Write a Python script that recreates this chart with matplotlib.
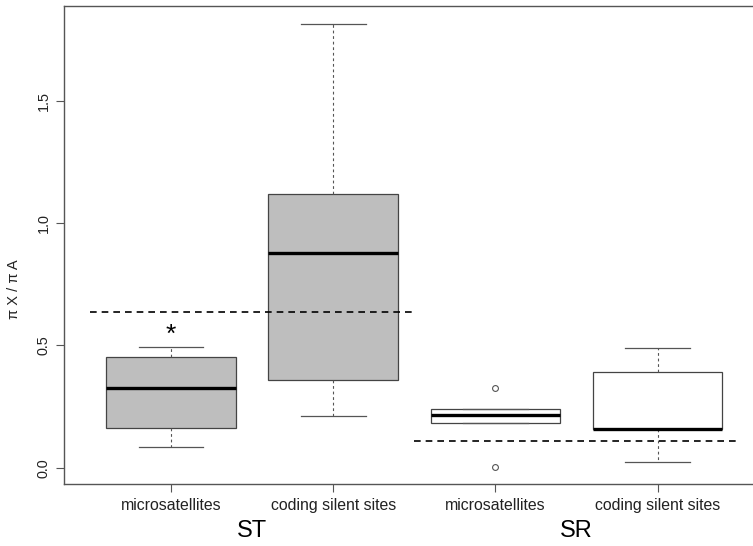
import matplotlib
matplotlib.use("Agg")
import matplotlib.pyplot as plt

plt.rcParams['font.family'] = ['Liberation Sans', 'DejaVu Sans']

# box statistics (pi X / pi A)
groups = ["ST", "SR"]
tick_labels = ["microsatellites", "coding silent sites", "microsatellites", "coding silent sites"]
whis_lo = [0.086, 0.211, 0.184, 0.022]
q1 = [0.163, 0.359, 0.184, 0.158]
medians = [0.324, 0.878, 0.214, 0.160]
q3 = [0.452, 1.118, 0.240, 0.391]
whis_hi = [0.495, 1.812, 0.240, 0.491]
outliers = [[], [], [0.328, 0.004], []]
fills = ["#bebebe", "#bebebe", "white", "white"]

# expected ratio per group (dashed reference lines)
expected = [0.635, 0.110]
star_y = 0.543

stats = []
for i in range(len(tick_labels)):
    stats.append({
        "whislo": whis_lo[i], "q1": q1[i], "med": medians[i],
        "q3": q3[i], "whishi": whis_hi[i], "fliers": outliers[i],
    })

fig = plt.figure(figsize=(7.53, 5.46), dpi=100)
ax = fig.add_axes([64 / 753, 62 / 546, 700.6 / 753, 478 / 546])

pos = [1, 2, 3, 4]
bp = ax.bxp(stats, positions=pos, widths=0.8, patch_artist=True,
            showfliers=True,
            boxprops=dict(edgecolor="#444444", linewidth=0.9),
            medianprops=dict(color="black", linewidth=2.4, solid_capstyle="butt"),
            whiskerprops=dict(color="#555555", linewidth=0.8, linestyle=(0, (2.5, 2.5))),
            capprops=dict(color="#555555", linewidth=0.9),
            capwidths=0.4,
            flierprops=dict(marker="o", markerfacecolor="none",
                            markeredgecolor="#555555", markersize=4.2,
                            markeredgewidth=0.8))
for patch, c in zip(bp["boxes"], fills):
    patch.set_facecolor(c)

# dashed expectation lines for each group
for g, val in enumerate(expected):
    ax.hlines(val, 0.5 + 2 * g, 2.5 + 2 * g, colors="black",
              linewidth=1.2, linestyles=(0, (4, 3)))

ax.text(1, star_y, "*", ha="center", va="center", fontsize=19)

ax.set_xlim(0.34, 4.66)
ax.set_ylim(-0.066, 1.886)
ax.set_xticks(pos)
ax.set_xticklabels(tick_labels, fontsize=11.4, color="#222222")
ax.set_yticks([0.0, 0.5, 1.0, 1.5])
ax.set_yticklabels(["0.0", "0.5", "1.0", "1.5"], fontsize=10.4,
                   rotation=90, va="center", color="#222222")
ax.tick_params(axis="both", direction="out", length=5.8, width=0.8,
               color="#555555")
ax.tick_params(axis="x", pad=4)
ax.tick_params(axis="y", pad=4)

for sp in ax.spines.values():
    sp.set_color("#555555")
    sp.set_linewidth(1.0)

ax.set_ylabel("\u03c0 X / \u03c0 A", fontsize=10.5, color="#222222")
ax.yaxis.set_label_coords(-0.061, 0.408)

# group labels under the axis
for g, name in enumerate(groups):
    xd = 1.5 + 2 * g
    xf = ax.transData.transform((xd, 0))[0] / fig.bbox.width
    fig.text(xf, 1 - 531 / 546, name, ha="center", va="center", fontsize=17)

fig.savefig("out.png", dpi=100)
